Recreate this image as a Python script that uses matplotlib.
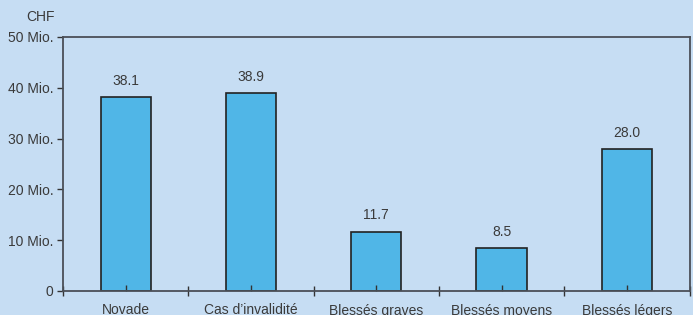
import matplotlib
matplotlib.use("Agg")
import matplotlib.pyplot as plt
import numpy as np
from matplotlib.ticker import FixedLocator, FuncFormatter

categories = ["Novade", "Cas d’invalidité", "Blessés graves", "Blessés moyens", "Blessés légers"]
values = [38.1, 38.9, 11.7, 8.5, 28.0]
ytick_vals = [0, 10, 20, 30, 40, 50]
ytick_labels = ["0", "10 Mio.", "20 Mio.", "30 Mio.", "40 Mio.", "50 Mio."]

bg = "#c6ddf3"
bar_col = "#50b6e7"
txt = "#3a3a3a"

plt.rcParams["font.family"] = ["Liberation Sans", "DejaVu Sans"]

fig = plt.figure(figsize=(6.93, 3.15), dpi=100, facecolor=bg)
ax = fig.add_axes([63/693, 24/315, (689.5-63)/693, (291-37)/315], facecolor=bg)

x = np.arange(len(categories))
ax.bar(x, values, width=0.4, color=bar_col, edgecolor="#222222", linewidth=1.2, zorder=1)
for xi, v in zip(x, values):
    ax.text(xi, v + 1.8, f"{v:.1f}", ha="center", va="bottom", fontsize=10, color=txt)

ax.set_xlim(-0.5, len(categories) - 0.5)
ax.set_ylim(0, 50)
ax.set_yticks(ytick_vals)
ax.set_yticklabels(ytick_labels, fontsize=10, color=txt)
ax.xaxis.set_major_locator(FixedLocator(np.arange(-0.5, len(categories), 1.0)))
ax.xaxis.set_major_formatter(FuncFormatter(lambda v, p: ""))
ax.xaxis.set_minor_locator(FixedLocator(x))
ax.set_xticklabels(categories, minor=True, fontsize=10, color=txt)
ax.tick_params(axis="x", which="major", direction="inout", length=7, width=1, color="#333333")
ax.tick_params(axis="x", which="minor", direction="in", length=4, width=1, color="#333333", pad=9)
ax.tick_params(axis="y", direction="out", length=4, width=1, color="#333333", pad=3)

for s in ["left", "bottom", "top", "right"]:
    ax.spines[s].set_color("#4a4f57")
    ax.spines[s].set_linewidth(1.3)

fig.text(55/693, 1 - 17/315, "CHF", ha="right", va="center", fontsize=10, color=txt)

fig.savefig("out.png", dpi=100, facecolor=bg)
